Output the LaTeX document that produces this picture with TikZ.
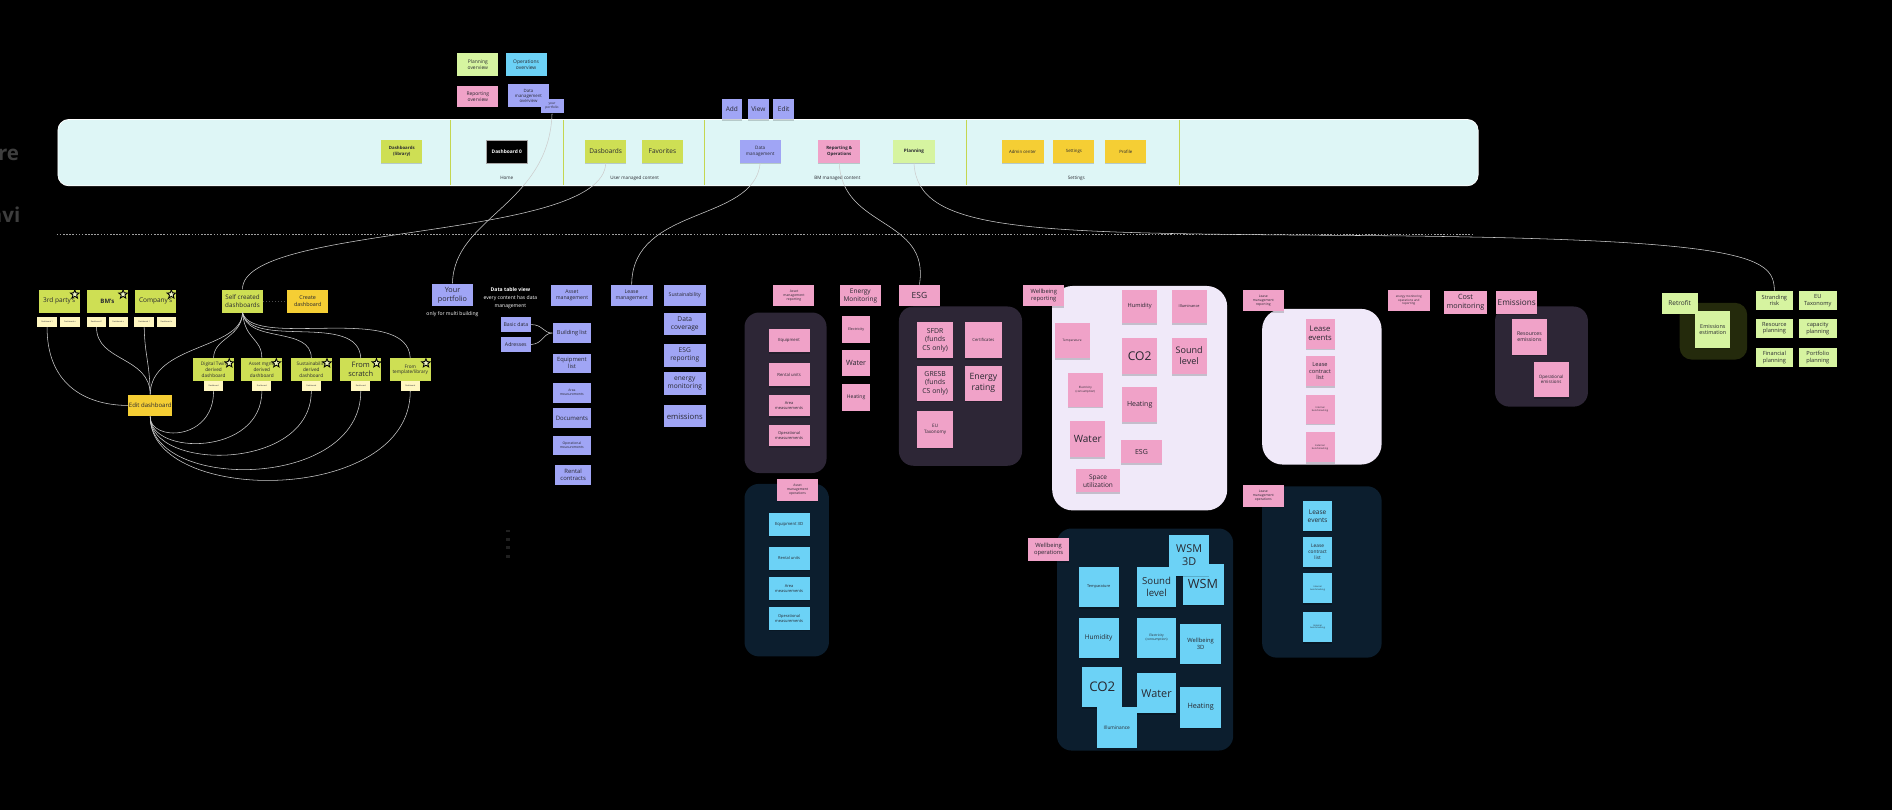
\documentclass[tikz,border=0pt]{standalone}
\usepackage{fontspec}
\setmainfont{Open Sans}
\usetikzlibrary{shapes.geometric}
\definecolor{cgreen}{RGB}{206,223,84}
\definecolor{clgreen}{RGB}{214,244,160}
\definecolor{cyel}{RGB}{245,206,52}
\definecolor{cpurp}{RGB}{160,165,245}
\definecolor{cpink}{RGB}{240,162,200}
\definecolor{ccyan}{RGB}{108,210,246}
\definecolor{clyel}{RGB}{255,247,192}
\definecolor{ctxt}{RGB}{40,40,48}
\definecolor{cband}{RGB}{222,246,246}
\definecolor{cdiv}{RGB}{196,214,80}
\definecolor{cdpur}{RGB}{45,38,54}
\definecolor{cnavy}{RGB}{12,30,46}
\definecolor{clav}{RGB}{240,233,249}
\definecolor{colive}{RGB}{36,42,12}
\definecolor{clink}{RGB}{205,205,205}
\definecolor{cside}{RGB}{62,62,62}
\newcommand\stk[8]{\node[#1, minimum width={#5-#3}, minimum height={#6-#4}, font={\fontsize{#7pt}{\fpeval{1.2*#7}pt}\selectfont}] (#2) at ({(#3+#5)/2},{(#4+#6)/2}) {#8};}
\tikzset{
  sticky/.style={rectangle, inner sep=0.4pt, align=center, text=ctxt,
    preaction={fill=black, opacity=0.18, transform canvas={yshift=-1.3pt}}},
  gr/.style={sticky, fill=cgreen},
  lg/.style={sticky, fill=clgreen},
  ye/.style={sticky, fill=cyel},
  pu/.style={sticky, fill=cpurp},
  pk/.style={sticky, fill=cpink},
  cy/.style={sticky, fill=ccyan},
  ly/.style={sticky, fill=clyel},
  bk/.style={sticky, fill=black, draw=gray!70, line width=0.3, text=white},
  contdp/.style={rectangle, rounded corners=12, fill=cdpur},
  contnv/.style={rectangle, rounded corners=12, fill=cnavy},
  contlv/.style={rectangle, rounded corners=17, fill=clav},
  contol/.style={rectangle, rounded corners=10, fill=colive},
  band/.style={rectangle, rounded corners=9, fill=cband, draw=white, line width=0.6},
  divider/.style={draw=cdiv, line width=0.6},
  lnk/.style={draw=clink, line width=0.45},
  lbl/.style={font={\fontsize{3.8pt}{4.6pt}\selectfont}, text=ctxt, inner sep=0},
  wlbl/.style={align=center, text=white, inner sep=0},
  starsym/.style={star, star points=5, star point ratio=2.3, minimum size=7.5, inner sep=0, draw=black, line width=0.7, fill=white!65!cgreen},
  side/.style={font={\fontsize{17pt}{20pt}\selectfont\bfseries}, text=cside, inner sep=0},
  sep/.style={draw=gray!75, line width=0.8, dash pattern=on 1.3pt off 1.3pt},
  dots/.style={rectangle, fill=gray!25!black, minimum width=3, minimum height=2.2, inner sep=0}
}
\begin{document}
\begin{tikzpicture}[x=1pt,y=-1pt]
\useasboundingbox (0,0) rectangle (1568,671);
\fill[black] (0,0) rectangle (1568,671);
% side labels
\node[side, anchor=base east] (tre) at (16,133) {re};
\node[side, anchor=base east] (tavi) at (17,184) {avi};
\coordinate (sepa) at (47,194);
\coordinate (sepb) at (1222,194);
\draw[sep] (sepa) -- (sepb);
% band
\stk{band}{bandbox}{48}{99}{1225}{154}{4}{}
\foreach \xx [count=\i] in {373,467,583.5,801,977}{
  \coordinate (dt\i) at (\xx,99.3);
  \coordinate (db\i) at (\xx,153.7);
  \draw[divider] (dt\i) -- (db\i);
}
\node[lbl] (lhome) at (420,147.5) {Home};
\node[lbl] (luser) at (526,147.5) {User managed content};
\node[lbl] (lbm) at (694,147.5) {BM managed content};
\node[lbl] (lset) at (892,147.5) {Settings};
\stk{gr}{dashlib}{316}{116}{350}{135}{3.6}{\bfseries Dashboards\\\bfseries (library)}
\stk{bk}{dash0}{403}{116}{437}{135}{4}{\bfseries Dashboard 0}
\stk{gr}{dasb}{485}{116}{519}{135}{5.4}{Dasboards}
\stk{gr}{fav}{532}{116}{566}{135}{5.4}{Favorites}
\stk{pu}{datam}{613}{116}{647}{135}{3.8}{Data\\management}
\stk{pk}{repops}{678}{116}{713}{135}{3.6}{\bfseries Reporting \&\\\bfseries Operations}
\stk{lg}{planning}{740}{116}{775}{135}{3.8}{\bfseries Planning}
\stk{ye}{admin}{830}{116}{865}{135}{3.6}{Admin center}
\stk{ye}{settings}{873}{116}{907}{135}{3.6}{Settings}
\stk{ye}{profile}{916}{116}{950}{135}{3.6}{Profile}
% above band
\stk{lg}{planov}{379}{44}{413}{63}{4.1}{Planning\\overview}
\stk{cy}{opsov}{419}{44}{453}{63}{4.1}{Operations\\overview}
\stk{pk}{repov}{379}{71}{413}{89}{4.1}{Reporting\\overview}
\stk{pu}{dmov}{421}{70}{455}{89}{3.6}{Data\\management\\overview}
\stk{pu}{yourp}{448}{82}{467}{94}{2.7}{your\\portfolio}
\stk{pu}{add}{598}{82}{615}{99}{5.4}{Add}
\stk{pu}{view}{620}{82}{637}{99}{5.4}{View}
\stk{pu}{edit}{641}{82}{658}{99}{5.4}{Edit}
% left cluster
\stk{gr}{third}{32}{240}{66}{259}{5.4}{3rd party's}
\stk{gr}{bms}{72}{240}{106}{259}{5}{\bfseries BM's}
\stk{gr}{comp}{112}{240}{146}{259}{5.4}{Company's}
\stk{ly}{d3a}{31}{263}{47}{271}{1.6}{Dashboard 1}
\stk{ly}{d3b}{50}{263}{66}{271}{1.6}{Dashboard n}
\stk{ly}{dba}{72}{263}{88}{271}{1.6}{Dashboard 1}
\stk{ly}{dbb}{90}{263}{106}{271}{1.6}{Dashboard n}
\stk{ly}{dca}{111}{263}{128}{271}{1.6}{Dashboard 1}
\stk{ly}{dcb}{130}{263}{146}{271}{1.6}{Dashboard n}
\stk{gr}{selfc}{184}{240}{218}{259}{5.2}{Self created\\dashboards}
\stk{ye}{cdash}{238}{240}{272}{259}{4.5}{Create\\dashboard}
\stk{gr}{dtd}{160}{297}{194}{316}{3.9}{Digital Twin\\derived\\dashboard}
\stk{gr}{amd}{200}{297}{234}{316}{3.9}{Asset mgmt\\derived\\dashboard}
\stk{gr}{sud}{241}{297}{275}{316}{3.9}{Sustainability\\derived\\dashboard}
\stk{gr}{fsd}{282}{297}{316}{316}{6.2}{From\\scratch}
\stk{gr}{ftd}{323}{297}{357}{316}{3.9}{From\\template/library}
\stk{ly}{dts}{169}{316}{185}{324}{1.6}{Dashboard}
\stk{ly}{ams}{209}{316}{225}{324}{1.6}{Dashboard}
\stk{ly}{sus}{250}{316}{266}{324}{1.6}{Dashboard}
\stk{ly}{fss}{291}{316}{307}{324}{1.6}{Dashboard}
\stk{ly}{fts}{332}{316}{348}{324}{1.6}{Dashboard}
\stk{ye}{editd}{107}{327}{142}{345}{5}{Edit dashboard}
\node[starsym] (s1) at (62,244) {};
\node[starsym] (s2) at (102,244) {};
\node[starsym] (s3) at (142,244) {};
\node[starsym] (s4) at (190,301) {};
\node[starsym] (s5) at (229,301) {};
\node[starsym] (s6) at (271,301) {};
\node[starsym] (s7) at (312,301) {};
\node[starsym] (s8) at (353,301) {};
\draw[draw=gray!60!black, line width=0.5, dotted] (selfc.east) -- (cdash.west);
\draw[lnk] (d3a.south) .. controls (39,322) and (75,336) .. (editd.west);
\draw[lnk] (dba.south) .. controls (80,300) and (124,295) .. (editd.north);
\draw[lnk] (dca.south) .. controls (120,295) and (124,300) .. (editd.north);
\draw[lnk] (selfc.south) .. controls (200,290) and (125,285) .. (editd.north);
\draw[lnk] (selfc.south) .. controls (200,280) and (177,280) .. (dtd.north);
\draw[lnk] (selfc.south) .. controls (203,282) and (217,280) .. (amd.north);
\draw[lnk] (selfc.south) .. controls (205,285) and (258,270) .. (sud.north);
\draw[lnk] (selfc.south) .. controls (208,290) and (297,258) .. (fsd.north);
\draw[lnk] (selfc.south) .. controls (210,290) and (338,250) .. (ftd.north);
\draw[lnk] (editd.south) .. controls (124,366) and (177,366) .. (dts.south);
\draw[lnk] (editd.south) .. controls (124,378) and (217,378) .. (ams.south);
\draw[lnk] (editd.south) .. controls (124,391) and (258,391) .. (sus.south);
\draw[lnk] (editd.south) .. controls (124,407) and (299,407) .. (fss.south);
\draw[lnk] (editd.south) .. controls (124,419) and (340,419) .. (fts.south);
% middle columns
\stk{pu}{yportf}{358}{235}{392}{254}{6}{Your\\portfolio}
\node[wlbl, font={\fontsize{4.2pt}{5pt}\selectfont}] (multi) at (375,260) {only for multi building};
\node[wlbl, font={\fontsize{4.2pt}{6.5pt}\selectfont}] (dtv) at (423,247) {\bfseries Data table view\\every content has data\\management};
\stk{pu}{basic}{415}{263}{440}{275}{4.3}{Basic data}
\stk{pu}{addr}{415}{279}{440}{292}{4.3}{Adresses}
\stk{pu}{assetm}{457}{236}{491}{254}{4.3}{Asset\\management}
\stk{pu}{bldg}{458}{268}{490}{284}{4.6}{Building list}
\stk{pu}{equip}{458}{293}{490}{309}{4.8}{Equipment\\list}
\stk{pu}{aream}{458}{317}{490}{334}{2.8}{Area\\measurements}
\stk{pu}{docs}{458}{338}{490}{355}{5}{Documents}
\stk{pu}{opm}{458}{361}{490}{377}{2.8}{Operational\\measurements}
\stk{pu}{rental}{460}{385}{490}{402}{4.9}{Rental\\contracts}
\draw[lnk] (basic.east) .. controls (450,269) and (450,276) .. (bldg.west);
\draw[lnk] (addr.east) .. controls (450,285) and (450,276) .. (bldg.west);
\stk{pu}{leasem}{506}{236}{541}{254}{4.3}{Lease\\management}
\stk{pu}{sustain}{550}{236}{585}{254}{4.3}{Sustainability}
\stk{pu}{datacov}{550}{259}{585}{278}{5.5}{Data\\coverage}
\stk{pu}{esgrep}{550}{285}{585}{304}{5.5}{ESG\\reporting}
\stk{pu}{energym}{550}{308}{585}{327}{5.5}{energy\\monitoring}
\stk{pu}{emis}{550}{336}{585}{354}{6.4}{emissions}
\node[dots] (dot1) at (421,440) {};
\node[dots] (dot2) at (421,447) {};
\node[dots] (dot3) at (421,454) {};
\node[dots] (dot4) at (421,461) {};
% asset management reporting
\stk{contdp}{cont1}{617}{259}{685}{392}{4}{}
\stk{pk}{amrep}{641}{236}{675}{254}{2.8}{Asset\\management\\reporting}
\stk{pk}{r1}{637}{273}{671}{292}{3.5}{Equipment}
\stk{pk}{r2}{637}{301}{671}{320}{3.5}{Rental units}
\stk{pk}{r3}{637}{327}{671}{345}{3.3}{Area\\measurements}
\stk{pk}{r4}{637}{352}{671}{370}{3.3}{Operational\\measurements}
\stk{contnv}{cont2}{617}{401}{687}{544}{4}{}
\stk{pk}{amops}{644}{397}{678}{415}{2.8}{Asset\\management\\operations}
\stk{cy}{o1}{637}{425}{671}{444}{3.5}{Equipment 3D}
\stk{cy}{o2}{637}{453}{671}{472}{3.3}{Rental units}
\stk{cy}{o3}{637}{478}{671}{497}{3.3}{Area\\measurements}
\stk{cy}{o4}{637}{503}{671}{522}{3.3}{Operational\\measurements}
% energy monitoring
\stk{pk}{enmon}{696}{236}{730}{254}{5.4}{Energy\\Monitoring}
\stk{pk}{elec}{698}{262}{721}{284}{3}{Electricity}
\stk{pk}{water}{698}{290}{721}{312}{6}{Water}
\stk{pk}{heat}{698}{318}{721}{341}{4.2}{Heating}
% ESG
\stk{contdp}{cont3}{745}{254}{847}{386}{4}{}
\stk{pk}{esg}{745}{236}{779}{254}{7}{ESG}
\stk{pk}{sfdr}{760}{267}{790}{297}{5.7}{SFDR\\(funds\\CS only)}
\stk{pk}{cert}{800}{267}{830}{297}{3.5}{Certificates}
\stk{pk}{gresb}{760}{303}{790}{332}{5.7}{GRESB\\(funds\\CS only)}
\stk{pk}{enrat}{800}{303}{830}{332}{7.2}{Energy\\rating}
\stk{pk}{eutax}{760}{341}{790}{371}{3.8}{EU\\Taxonomy}
% wellbeing reporting
\stk{contlv}{cont4}{872}{237}{1017}{423}{4}{}
\stk{pk}{wbrep}{848}{236}{882}{254}{4.8}{Wellbeing\\reporting}
\stk{pk}{w1}{930}{240}{959}{268}{4.7}{Humidity}
\stk{pk}{w2}{971}{240}{1000}{268}{3.2}{Illuminance}
\stk{pk}{w3}{874}{268}{903}{297}{2.6}{Temperature}
\stk{pk}{w4}{930}{280}{959}{310}{10}{CO2}
\stk{pk}{w5}{971}{280}{1000}{310}{7.5}{Sound\\level}
\stk{pk}{w6}{885}{309}{914}{337}{2.4}{Electricity\\(consumption)}
\stk{pk}{w7}{930}{321}{959}{350}{5.8}{Heating}
\stk{pk}{w8}{887}{349}{916}{379}{8.3}{Water}
\stk{pk}{w9}{929}{365}{963}{384}{5.8}{ESG}
\stk{pk}{w10}{892}{389}{928}{408}{5.4}{Space\\utilization}
% wellbeing operations
\stk{contnv}{cont5}{876}{438}{1022}{622}{4}{}
\stk{pk}{wbops}{852}{446}{886}{465}{4.8}{Wellbeing\\operations}
\stk{cy}{v1}{980}{467}{1014}{501}{10.5}{WSM}
\stk{cy}{v2}{969}{443}{1002}{477}{9}{WSM\\3D}
\stk{cy}{v3}{894}{470}{927}{503}{3.2}{Temparature}
\stk{cy}{v4}{942}{470}{975}{503}{8}{Sound\\level}
\stk{cy}{v5}{894}{512}{927}{545}{5.4}{Humidity}
\stk{cy}{v6}{942}{512}{975}{545}{2.7}{Electricity\\(consumption)}
\stk{cy}{v7}{978}{517}{1012}{550}{4.8}{Wellbeing\\3D}
\stk{cy}{v8}{897}{553}{930}{586}{11}{CO2}
\stk{cy}{v9}{942}{558}{975}{591}{9}{Water}
\stk{cy}{v10}{978}{569}{1012}{603}{6}{Heating}
\stk{cy}{v11}{909}{586}{942}{620}{4}{Illuminance}
% lease management reporting
\stk{contlv}{cont6}{1046}{256}{1145}{385}{4}{}
\stk{pk}{lmrep}{1030}{240}{1064}{258}{2.8}{Lease\\management\\reporting}
\stk{pk}{l1}{1082}{264}{1106}{289}{6.4}{Lease\\events}
\stk{pk}{l2}{1082}{295}{1106}{320}{4.7}{Lease\\contract\\list}
\stk{pk}{l3}{1082}{327}{1106}{351}{2}{Internal\\benchmarking}
\stk{pk}{l4}{1082}{358}{1106}{383}{2}{External\\benchmarking}
% lease management operations
\stk{contnv}{cont7}{1046}{403}{1145}{545}{4}{}
\stk{pk}{lmops}{1030}{402}{1064}{420}{2.8}{Lease\\management\\operations}
\stk{cy}{m1}{1080}{415}{1104}{440}{5.4}{Lease\\events}
\stk{cy}{m2}{1080}{445}{1104}{470}{4}{Lease\\contract\\list}
\stk{cy}{m3}{1080}{475}{1104}{500}{1.8}{Internal\\benchmarking}
\stk{cy}{m4}{1080}{507}{1104}{532}{1.8}{External\\benchmarking}
% energy / cost / emissions
\stk{pk}{emor}{1150}{240}{1185}{258}{2.5}{energy monitoring\\operations and\\reporting}
\stk{pk}{cost}{1197}{241}{1232}{260}{6}{Cost\\monitoring}
\stk{contdp}{cont8}{1239}{254}{1316}{337}{4}{}
\stk{pk}{emhead}{1240}{241}{1274}{260}{6.8}{Emissions}
\stk{pk}{resem}{1253}{264}{1282}{294}{4.3}{Resources\\emissions}
\stk{pk}{opem}{1271}{300}{1300}{329}{3.7}{Operational\\emissions}
% retrofit / planning
\stk{contol}{cont9}{1392}{251}{1448}{298}{4}{}
\stk{lg}{retro}{1377}{243}{1407}{260}{5.4}{Retrofit}
\stk{lg}{emest}{1405}{258}{1434}{288}{4.5}{Emissions\\estimation}
\stk{lg}{strand}{1455}{241}{1486}{257}{4.7}{Stranding\\risk}
\stk{lg}{eutx}{1491}{241}{1522}{257}{4.7}{EU\\Taxonomy}
\stk{lg}{respl}{1455}{264}{1486}{280}{4.7}{Resource\\planning}
\stk{lg}{cappl}{1491}{264}{1522}{280}{4.7}{capacity\\planning}
\stk{lg}{finpl}{1455}{288}{1486}{304}{4.7}{Financial\\planning}
\stk{lg}{portpl}{1491}{288}{1522}{304}{4.7}{Portfolio\\planning}
% long connectors
\coordinate (pmid) at (1100,195);
\draw[lnk] (yourp.south) .. controls (455,170) and (376,180) .. (yportf.north);
\draw[lnk] (dasb.south) .. controls (500,200) and (200,185) .. (selfc.north);
\draw[lnk] (datam.south) .. controls (625,185) and (524,170) .. (leasem.north);
\draw[lnk] (repops.south) .. controls (698,190) and (771,180) .. (esg.north);
\draw[lnk] (planning.south) .. controls (760,192) and (850,193) .. (pmid) .. controls (1450,197) and (1470,212) .. (strand.north);
\end{tikzpicture}
\end{document}
